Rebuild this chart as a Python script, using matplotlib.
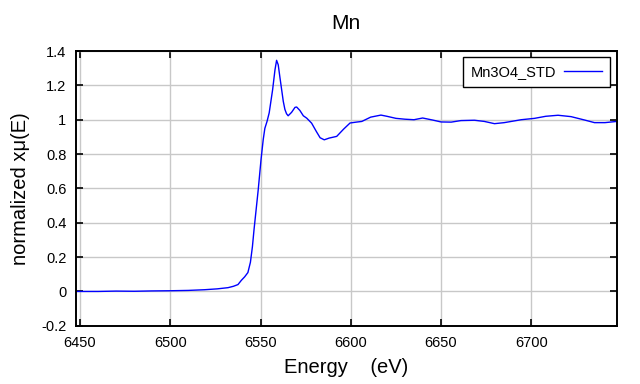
import numpy as np
import matplotlib
matplotlib.use("Agg")
import matplotlib.pyplot as plt
from matplotlib.ticker import FuncFormatter

# spectrum (energy in eV, normalized absorption)
energy = [6447.8, 6460, 6470, 6480, 6490, 6500, 6510, 6519, 6526, 6532,
          6535, 6537.5, 6539.4, 6541.2, 6543, 6544.4, 6545.5, 6546.4, 6548.7, 6550.3,
          6551.5, 6552.4, 6553.6, 6554.8, 6556.7, 6558, 6558.9, 6559.8, 6560.7, 6561.7,
          6562.6, 6563.5, 6564.4, 6565.3, 6567.2, 6569.1, 6570, 6571.8, 6573.7, 6575.6,
          6578.3, 6581, 6583, 6585.3, 6588, 6592.2, 6596, 6599.6, 6603, 6606.1,
          6611, 6616.7, 6620, 6625, 6630, 6635, 6639.8, 6645.4, 6650, 6655.6,
          6661, 6668.5, 6674, 6679.6, 6685, 6694.4, 6701.8, 6708, 6714.8, 6722,
          6729.6, 6735, 6740.8, 6747.3]
mu = [0.0, 0.0, 0.002, 0.001, 0.003, 0.004, 0.006, 0.01, 0.015, 0.022,
      0.03, 0.04, 0.065, 0.085, 0.11, 0.17, 0.26, 0.36, 0.59, 0.77,
      0.885, 0.95, 0.99, 1.04, 1.175, 1.29, 1.346, 1.32, 1.25, 1.175,
      1.107, 1.06, 1.035, 1.023, 1.043, 1.072, 1.074, 1.054, 1.023, 1.009,
      0.98, 0.93, 0.895, 0.883, 0.893, 0.903, 0.945, 0.981, 0.986, 0.99,
      1.015, 1.027, 1.02, 1.008, 1.003, 1.0, 1.01, 0.998, 0.987, 0.986,
      0.995, 0.997, 0.99, 0.977, 0.983, 1.0, 1.008, 1.02, 1.026, 1.018,
      0.998, 0.983, 0.983, 0.99]

x_ticks = [6450, 6500, 6550, 6600, 6650, 6700]
y_ticks = [-0.2, 0, 0.2, 0.4, 0.6, 0.8, 1, 1.2, 1.4]

plt.rcParams['font.family'] = ['Liberation Sans', 'DejaVu Sans']
plt.rcParams['axes.unicode_minus'] = False

fig = plt.figure(figsize=(6.4, 3.84), dpi=100)
ax = fig.add_axes([0.1188, 0.1516, 0.8448, 0.7155])

ax.plot(energy, mu, color='#0000ff', lw=1.0, label='Mn3O4_STD')

ax.set_xlim(6447.8, 6747.3)
ax.set_ylim(-0.2, 1.4)
ax.set_xticks(x_ticks)
ax.set_yticks(y_ticks)
ax.yaxis.set_major_formatter(FuncFormatter(lambda v, p: '%g' % round(v, 2)))
ax.grid(True, color='#c8c8c8', lw=1.0)
ax.set_axisbelow(True)
ax.tick_params(direction='in', length=5, width=1.2, top=True, right=True,
               labelsize=10.5, pad=7)
for s in ax.spines.values():
    s.set_linewidth(1.4)

ax.set_title('Mn', fontsize=15, pad=16)
ax.set_xlabel('Energy    (eV)', fontsize=14.5, labelpad=6)
ax.set_ylabel('normalized xμ(E)', fontsize=14.5, labelpad=8)

leg = ax.legend(loc='upper right', bbox_to_anchor=(0.987, 0.977), fontsize=10.5,
                markerfirst=False, fancybox=False, framealpha=1, edgecolor='black',
                handlelength=2.6, handletextpad=0.5, borderpad=0.55, borderaxespad=0)
leg.get_frame().set_linewidth(1.0)

fig.savefig('out.png', dpi=100)
